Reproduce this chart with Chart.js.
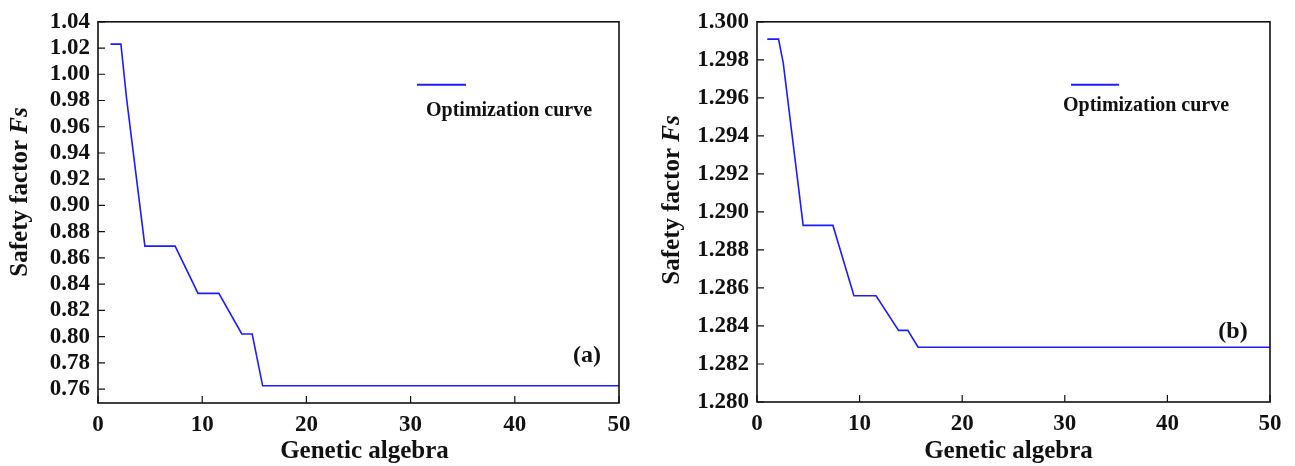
<!DOCTYPE html>
<html>
<head>
<meta charset="utf-8">
<script src="https://cdn.jsdelivr.net/npm/chart.js@4"></script>
<style>
  body { margin: 0; background: #fff; width: 1295px; height: 466px; overflow: hidden; }
  .box { position: absolute; top: 0; height: 466px; }
</style>
</head>
<body>
<div class="box" style="left:0;width:640px"><canvas id="chartA" width="640" height="466"></canvas></div>
<div class="box" style="left:645px;width:650px"><canvas id="chartB" width="650" height="466"></canvas></div>
<script>
// values
var genA = [1.2, 2.2, 2.75, 4.5, 7.4, 9.6, 11.6, 13.8, 14.8, 15.8, 50];
var fsA  = [1.023, 1.023, 0.981, 0.869, 0.869, 0.833, 0.833, 0.802, 0.802, 0.7625, 0.7625];
var genB = [1.0, 2.1, 2.56, 4.5, 7.4, 9.45, 11.6, 13.8, 14.7, 15.7, 50];
var fsB  = [1.29909, 1.29909, 1.29783, 1.28929, 1.28929, 1.28559, 1.28559, 1.28377, 1.28377, 1.28288, 1.28288];

var xTicks = [0, 10, 20, 30, 40, 50];
var yTicksA = [0.76, 0.78, 0.80, 0.82, 0.84, 0.86, 0.88, 0.90, 0.92, 0.94, 0.96, 0.98, 1.00, 1.02, 1.04];
var yTicksB = [1.280, 1.282, 1.284, 1.286, 1.288, 1.290, 1.292, 1.294, 1.296, 1.298, 1.300];

var seriesName = 'Optimization curve';
var xTitle = 'Genetic algebra';
var yTitle = 'Safety factor ';
var yTitleIt = 'Fs';

var serif = '"Liberation Serif", "Times New Roman", serif';
var ink = '#111';

function pairUp(xs, ys){
    var out = [];
    xs.forEach(function(x, i){
        out.push({x: x, y: ys[i]});
    });
    return out;
}

// frame, inward ticks, axis titles, legend and panel letter
var decor = {
    id: 'decor',
    afterDraw: function(chart, args, o){
        var ctx = chart.ctx;
        var a = chart.chartArea;
        var sx = chart.scales.x, sy = chart.scales.y;
        ctx.save();
        ctx.strokeStyle = ink;
        ctx.lineWidth = 1.6;
        ctx.strokeRect(a.left, a.top, a.right - a.left, a.bottom - a.top);
        ctx.lineWidth = 1.2;
        ctx.beginPath();
        sx.ticks.forEach(function(t){
            var px = sx.getPixelForValue(t.value);
            ctx.moveTo(px, a.bottom);
            ctx.lineTo(px, a.bottom - 7);
        });
        sy.ticks.forEach(function(t){
            var py = sy.getPixelForValue(t.value);
            ctx.moveTo(a.left, py);
            ctx.lineTo(a.left + 7, py);
        });
        ctx.stroke();

        ctx.fillStyle = ink;
        // x title
        ctx.font = 'bold 25px ' + serif;
        ctx.textAlign = 'center';
        ctx.textBaseline = 'middle';
        ctx.fillText(xTitle, (a.left + a.right) / 2 + o.xTitleShift, 452);

        // y title, rotated, with italic Fs
        ctx.save();
        ctx.translate(o.yTitleX, o.yTitleY);
        ctx.rotate(-Math.PI / 2);
        ctx.font = 'bold 25px ' + serif;
        var w1 = ctx.measureText(yTitle).width;
        ctx.font = 'italic bold 25px ' + serif;
        var w2 = ctx.measureText(yTitleIt).width;
        ctx.textAlign = 'left';
        ctx.font = 'bold 25px ' + serif;
        ctx.fillText(yTitle, -(w1 + w2) / 2, 0);
        ctx.font = 'italic bold 25px ' + serif;
        ctx.fillText(yTitleIt, -(w1 + w2) / 2 + w1, 0);
        ctx.restore();

        // legend: line with label underneath
        var ds = chart.data.datasets[0];
        ctx.strokeStyle = ds.borderColor;
        ctx.lineWidth = 2;
        ctx.beginPath();
        ctx.moveTo(a.left + o.legLine[0], a.top + o.legLine[2]);
        ctx.lineTo(a.left + o.legLine[1], a.top + o.legLine[2]);
        ctx.stroke();
        ctx.font = 'bold 20px ' + serif;
        ctx.textAlign = 'left';
        ctx.fillText(ds.label, a.left + o.legText[0], a.top + o.legText[1]);

        // panel letter
        ctx.font = 'bold 24px ' + serif;
        ctx.textAlign = 'center';
        ctx.fillText(o.tag, a.left + o.tagPos[0], a.top + o.tagPos[1]);
        ctx.restore();
    }
};

function makeChart(id, xs, ys, yMin, yMax, yTicks, digits, yWidth, padRight, xHeight, deco){
    var ctx = document.getElementById(id).getContext('2d');
    return new Chart(ctx, {
        type: 'line',
        data: {
            datasets: [{
                label: seriesName,
                data: pairUp(xs, ys),
                borderColor: 'rgb(28, 28, 255)',
                borderWidth: 1.6,
                pointRadius: 0,
                tension: 0,
                fill: false
            }]
        },
        options: {
            responsive: false,
            animation: false,
            layout: { padding: { top: 18, right: padRight, left: 0, bottom: 0 } },
            plugins: {
                legend: { display: false },
                tooltip: { enabled: false },
                decor: deco
            },
            scales: {
                x: {
                    type: 'linear',
                    min: 0, max: 50,
                    grid: { display: false, drawTicks: false },
                    border: { display: false },
                    afterBuildTicks: function(s){ s.ticks = xTicks.map(function(v){ return {value: v}; }); },
                    afterFit: function(s){ s.height = xHeight; },
                    ticks: {
                        padding: 8,
                        autoSkip: false,
                        color: ink,
                        font: { family: serif, size: 23, weight: 'bold' },
                        maxRotation: 0
                    }
                },
                y: {
                    type: 'linear',
                    min: yMin, max: yMax,
                    grid: { display: false, drawTicks: false },
                    border: { display: false },
                    afterBuildTicks: function(s){ s.ticks = yTicks.map(function(v){ return {value: v}; }); },
                    afterFit: function(s){ s.width = yWidth; },
                    ticks: {
                        padding: 8,
                        autoSkip: false,
                        color: ink,
                        font: { family: serif, size: 23, weight: 'bold' },
                        callback: function(v){ return Number(v).toFixed(digits); }
                    }
                }
            }
        },
        plugins: [decor]
    });
}

makeChart('chartA', genA, fsA, 0.7494, 1.04, yTicksA, 2, 98, 21, 63, {
    xTitleShift: 6, yTitleX: 21, yTitleY: 192,
    legLine: [319, 368, 63], legText: [328, 89],
    tag: '(a)', tagPos: [489, 334]
});
makeChart('chartB', genB, fsB, 1.280, 1.300, yTicksB, 3, 112, 25, 64, {
    xTitleShift: -5, yTitleX: 28, yTitleY: 200,
    legLine: [314, 362, 63], legText: [306, 84],
    tag: '(b)', tagPos: [476, 310]
});
</script>
</body>
</html>
